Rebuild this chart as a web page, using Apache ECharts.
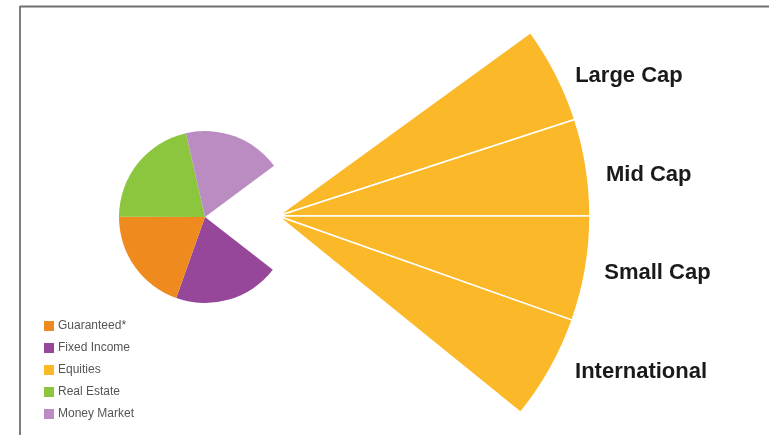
<!DOCTYPE html>
<html>
<head>
<meta charset="utf-8">
<script src="https://cdn.jsdelivr.net/npm/echarts@6/dist/echarts.min.js"></script>
<style>
html,body{margin:0;padding:0;background:#fff;}
#chart{width:769px;height:435px;}
</style>
</head>
<body>
<div id="chart"></div>
<script>
// Allocation (small pie), order as drawn clockwise from the gap
const allocNames = ['Equities', 'Fixed Income', 'Guaranteed*', 'Real Estate', 'Money Market'];
const allocValues = [20.7, 19.9, 19.6, 21.4, 18.4];
const allocColors = ['#FBB829', '#96479A', '#EE8A1E', '#8CC63E', '#BA8CC2'];
// Legend order
const legendNames = ['Guaranteed*', 'Fixed Income', 'Equities', 'Real Estate', 'Money Market'];
// Equities breakdown (fan)
const equityNames = ['Large Cap', 'Mid Cap', 'Small Cap', 'International'];
const equityValues = [24, 24, 26, 26];

// label nudges (layout only)
const labelDx = [-1, -2, -3, 5];
const labelDy = [9, 10, 1, -5];

const chart = echarts.init(document.getElementById('chart'), null, {renderer: 'canvas'});

const colorOf = n => allocColors[allocNames.indexOf(n)];

const option = {
  backgroundColor: '#ffffff',
  animation: false,
  legend: {
    orient: 'vertical',
    left: 39,
    top: 315,
    itemWidth: 10,
    itemHeight: 10,
    itemGap: 10,
    icon: 'rect',
    selectedMode: false,
    textStyle: {fontFamily: 'Liberation Sans, Arial, sans-serif', fontSize: 12, color: '#555', padding: [0, 0, 0, -1]},
    data: legendNames.map(n => ({name: n, itemStyle: {color: colorOf(n)}}))
  },
  graphic: [
    {type: 'line', shape: {x1: 20, y1: 6.5, x2: 769, y2: 6.5}, style: {stroke: '#707070', lineWidth: 1.8}, silent: true},
    {type: 'line', shape: {x1: 20, y1: 6, x2: 20, y2: 435}, style: {stroke: '#707070', lineWidth: 1.8}, silent: true}
  ],
  series: [
    {
      type: 'pie',
      center: [205, 217],
      radius: [0, 86],
      startAngle: 36.6,
      clockwise: true,
      label: {show: false},
      labelLine: {show: false},
      silent: true,
      itemStyle: {borderWidth: 0},
      data: allocNames.map((n, i) => ({
        name: n,
        value: allocValues[i],
        itemStyle: {color: n === 'Equities' ? 'rgba(0,0,0,0)' : allocColors[i]}
      }))
    },
    {
      type: 'pie',
      center: [278, 216],
      radius: [0, 312],
      startAngle: 36,
      endAngle: -39,
      clockwise: true,
      avoidLabelOverlap: false,
      silent: true,
      itemStyle: {color: '#FBB829', borderColor: '#ffffff', borderWidth: 1.5},
      label: {
        show: true,
        position: 'outside',
        fontFamily: 'Liberation Sans, Arial, sans-serif',
        fontWeight: 'bold',
        fontSize: 22,
        color: '#1a1a1a'
      },
      labelLine: {show: false, length: 17, length2: 0},
      labelLayout: function (p) {
        return {dx: labelDx[p.dataIndex], dy: labelDy[p.dataIndex]};
      },
      data: equityNames.map((n, i) => ({name: n, value: equityValues[i]}))
    }
  ]
};
chart.setOption(option);
</script>
</body>
</html>
